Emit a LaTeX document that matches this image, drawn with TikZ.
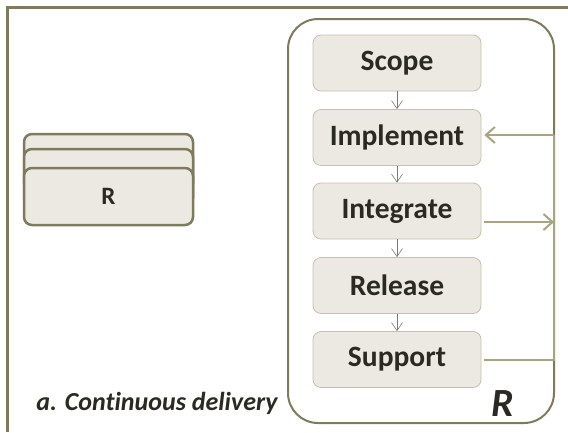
\documentclass[tikz,border=0pt]{standalone}
\usepackage{fontspec}
\setmainfont{Carlito}[Ligatures=NoCommon]
\usetikzlibrary{arrows.meta}
\definecolor{olive}{HTML}{7E7A5C}
\definecolor{boxfill}{HTML}{ECE9E2}
\definecolor{boxline}{HTML}{C5C2A8}
\definecolor{conn}{HTML}{A8A57E}
\definecolor{txt}{HTML}{2A2A22}
\definecolor{smallarr}{HTML}{7A7A72}
\begin{document}
\begin{tikzpicture}[x=1pt,y=-1pt,
  stepbox/.style={draw=boxline, fill=boxfill, rounded corners=8pt, line width=0.8pt,
    minimum width=168pt, minimum height=56pt, inner sep=0pt, text=txt,
    font=\bfseries\fontsize{29.5}{32}\selectfont},
  card/.style={draw=olive, fill=boxfill, rounded corners=8pt, line width=2.5pt,
    minimum width=169pt, minimum height=57pt, inner sep=0pt, text=txt},
  flow/.style={draw=smallarr, line width=0.6pt, -{Straight Barb[length=8pt,width=11pt]}},
  loopline/.style={draw=conn, line width=2pt},
  looparr/.style={loopline, -{Straight Barb[length=9pt,width=16pt]}}]
\useasboundingbox (0,0) rectangle (568,432);
\draw[olive, line width=3pt] (568,7) -- (7,7) -- (7,432);
% big frame
\node[draw=olive, line width=2pt, rounded corners=30pt, minimum width=266pt,
  minimum height=404pt, inner sep=0pt] (frame) at (421,221) {};
% steps
\node[stepbox] (scope) at (397,63) {Scope};
\node[stepbox] (impl) at (397,137.5) {Implement};
\node[stepbox] (integ) at (397,211) {Integrate};
\node[stepbox] (rel) at (397,285.5) {Release};
\node[stepbox] (sup) at (397,359.5) {Support};
\draw[flow] (scope) -- (impl);
\draw[flow] (impl) -- (integ);
\draw[flow] (integ) -- (rel);
\draw[flow] (rel) -- (sup);
% loop connectors
\coordinate (c1) at (554,135);
\coordinate (c2) at (554,222);
\coordinate (c3) at (554,360);
\draw[looparr] (c1) -- ([xshift=3pt]c1 -| impl.east);
\draw[looparr] ([xshift=3pt]c2 -| integ.east) -- (c2);
\draw[loopline] ([xshift=3pt]c3 -| sup.east) -- (c3) -- (c1);
% stacked cards
\node[card] (card1) at (108.5,162.5) {};
\node[card] (card2) at (108.5,177.5) {};
\node[card] (card3) at (108.5,196.5) {\fontsize{25}{28}\selectfont\bfseries R};
% labels
\node[text=txt, font=\bfseries\itshape\fontsize{26}{30}\selectfont] (cap) at (157,403) {a. Continuous delivery};
\node[text=txt, font=\bfseries\itshape\fontsize{40}{44}\selectfont] (bigr) at (503,404) {R};
\end{tikzpicture}
\end{document}
